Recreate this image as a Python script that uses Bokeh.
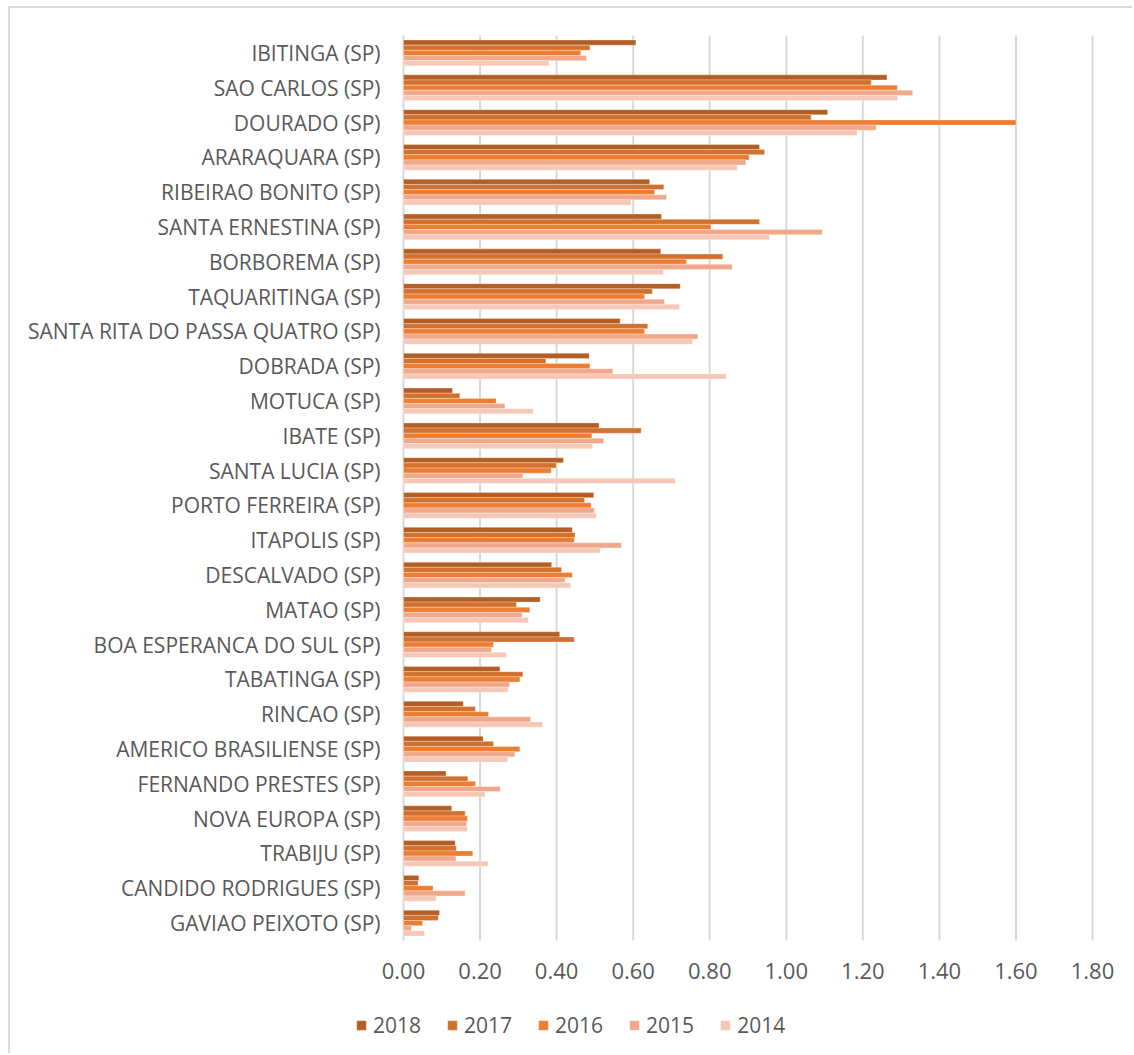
from bokeh.plotting import figure
from bokeh.models import (ColumnDataSource, Legend, LegendItem, FixedTicker,
                          NumeralTickFormatter, Range1d)
from bokeh.transform import dodge
from bokeh.embed import file_html
from bokeh.resources import INLINE

cities = ["IBITINGA (SP)", "SAO CARLOS (SP)", "DOURADO (SP)", "ARARAQUARA (SP)",
          "RIBEIRAO BONITO (SP)", "SANTA ERNESTINA (SP)", "BORBOREMA (SP)",
          "TAQUARITINGA (SP)", "SANTA RITA DO PASSA QUATRO (SP)", "DOBRADA (SP)",
          "MOTUCA (SP)", "IBATE (SP)", "SANTA LUCIA (SP)", "PORTO FERREIRA (SP)",
          "ITAPOLIS (SP)", "DESCALVADO (SP)", "MATAO (SP)", "BOA ESPERANCA DO SUL (SP)",
          "TABATINGA (SP)", "RINCAO (SP)", "AMERICO BRASILIENSE (SP)",
          "FERNANDO PRESTES (SP)", "NOVA EUROPA (SP)", "TRABIJU (SP)",
          "CANDIDO RODRIGUES (SP)", "GAVIAO PEIXOTO (SP)"]

years = ["2018", "2017", "2016", "2015", "2014"]

v2018 = [0.607, 1.263, 1.108, 0.930, 0.643, 0.674, 0.672, 0.723, 0.566, 0.485,
         0.128, 0.511, 0.418, 0.497, 0.441, 0.387, 0.357, 0.408, 0.252, 0.156,
         0.208, 0.111, 0.126, 0.135, 0.040, 0.094]
v2017 = [0.487, 1.222, 1.065, 0.943, 0.680, 0.930, 0.834, 0.650, 0.638, 0.372,
         0.147, 0.621, 0.399, 0.473, 0.448, 0.413, 0.295, 0.446, 0.312, 0.188,
         0.235, 0.168, 0.161, 0.138, 0.038, 0.091]
v2016 = [0.463, 1.290, 1.600, 0.903, 0.656, 0.803, 0.739, 0.630, 0.630, 0.487,
         0.242, 0.492, 0.386, 0.490, 0.446, 0.441, 0.330, 0.235, 0.304, 0.222,
         0.304, 0.188, 0.167, 0.181, 0.077, 0.050]
v2015 = [0.478, 1.330, 1.235, 0.894, 0.687, 1.094, 0.859, 0.682, 0.769, 0.547,
         0.265, 0.523, 0.312, 0.499, 0.569, 0.422, 0.310, 0.230, 0.277, 0.332,
         0.291, 0.253, 0.165, 0.137, 0.161, 0.021]
v2014 = [0.380, 1.291, 1.185, 0.872, 0.594, 0.956, 0.679, 0.721, 0.755, 0.843,
         0.339, 0.494, 0.710, 0.504, 0.514, 0.437, 0.326, 0.269, 0.273, 0.363,
         0.272, 0.213, 0.167, 0.221, 0.085, 0.055]

x_ticks = [0.0, 0.2, 0.4, 0.6, 0.8, 1.0, 1.2, 1.4, 1.6, 1.8]

colors = ["#B35E24", "#D2702E", "#ED7D31", "#F1A88A", "#F6C7B6"]
series = [v2018, v2017, v2016, v2015, v2014]

n = len(cities)
ypos = [n - 0.5 - i for i in range(n)]      # row centres, top row first
src = ColumnDataSource(dict(city=cities, ypos=ypos,
                            **{"y" + y: s for y, s in zip(years, series)}))

FONT = "Open Sans"
TXT = "#595959"

# canvas geometry (pixels): value 0 at x=393, 1.8 at x=1082; top row edge y=27, bottom row edge y=932
W, H = 1124, 1047
X0PX, X1PX = 393, 1082
YTOP, YBOT = 27, 932
xmax = max(x_ticks)
sx = (X1PX - X0PX) / xmax
sy = (YBOT - YTOP) / n
x_range = Range1d(-X0PX / sx, xmax + (W - X1PX) / sx)
y_range = Range1d(-(H - YBOT) / sy, n + YTOP / sy)

p = figure(width=W, height=H, x_range=x_range, y_range=y_range,
           output_backend="svg", toolbar_location=None,
           min_border_left=0, min_border_right=0, min_border_top=0, min_border_bottom=0)
p.margin = (6, 0, 0, 8)
p.styles = {"border-top": "2px solid #d9d9d9", "border-left": "2px solid #d9d9d9"}
p.outline_line_color = None
p.background_fill_color = "white"
p.border_fill_color = "white"
p.xgrid.visible = False
p.ygrid.visible = False

# vertical gridlines at the value ticks, spanning the rows
p.segment(x0=x_ticks, x1=x_ticks, y0=[0] * len(x_ticks), y1=[n] * len(x_ticks),
          line_color="#d9d9d9", line_width=2)

bh = 0.148
offsets = [2 * bh, bh, 0.0, -bh, -2 * bh]
renderers = []
for y, c, off in zip(years, colors, offsets):
    r = p.hbar(y=dodge("ypos", off), left=0, right="y" + y, height=bh, source=src,
               fill_color=c, line_color="white", line_width=0.3)
    renderers.append(r)

xa = p.xaxis[0]
xa.fixed_location = 0
xa.ticker = FixedTicker(ticks=x_ticks)
xa.formatter = NumeralTickFormatter(format="0.00")
xa.major_label_text_font_size = "22px"
xa.major_label_standoff = 16

ya = p.yaxis[0]
ya.fixed_location = 0
ya.ticker = FixedTicker(ticks=ypos)
ya.major_label_overrides = {yp: c for yp, c in zip(ypos, cities)}
ya.major_label_text_font_size = "21px"
ya.major_label_standoff = 17

for ax in (xa, ya):
    ax.axis_line_color = None
    ax.major_tick_line_color = None
    ax.minor_tick_line_color = None
    ax.major_label_text_font = FONT
    ax.major_label_text_color = TXT

legend = Legend(items=[LegendItem(label=y, renderers=[r]) for y, r in zip(years, renderers)],
                orientation="horizontal", location=(345, 16))
legend.border_line_color = None
legend.background_fill_alpha = 0
legend.padding = 0
legend.margin = 0
legend.spacing = 25
legend.glyph_width = 12
legend.glyph_height = 12
legend.label_standoff = 6
legend.label_text_font = FONT
legend.label_text_color = TXT
legend.label_text_font_size = "21px"
p.add_layout(legend, "center")

open("out.html", "w").write(file_html(p, INLINE))
